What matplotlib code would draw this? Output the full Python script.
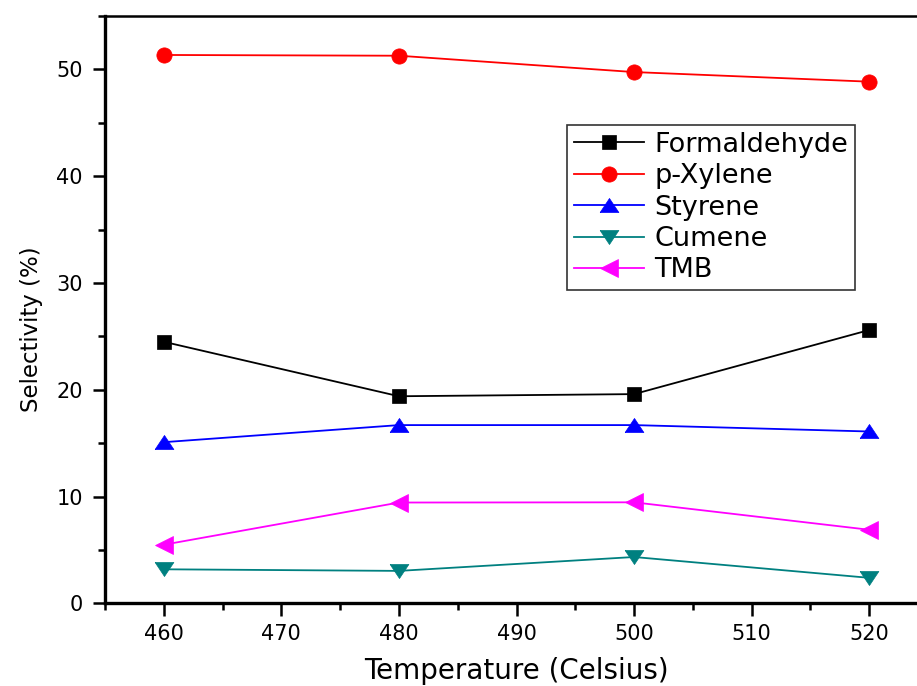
import numpy as np
import matplotlib
matplotlib.use("Agg")
from matplotlib import pyplot as plt
from matplotlib.ticker import MultipleLocator

# Reaction temperatures and product selectivities (%)
temperature = [460, 480, 500, 520]
formaldehyde = [24.5, 19.4, 19.6, 25.6]
p_xylene = [51.35, 51.28, 49.75, 48.85]
styrene = [15.1, 16.7, 16.7, 16.1]
cumene = [3.2, 3.05, 4.35, 2.4]
tmb = [5.5, 9.45, 9.47, 6.9]

# wide, flat triangles like the Origin symbols
tri_up = [(-1, -0.75), (1, -0.75), (0, 0.75), (-1, -0.75)]
tri_down = [(-1, 0.75), (1, 0.75), (0, -0.75), (-1, 0.75)]

plt.rcParams['font.family'] = ['DejaVu Sans']

fig = plt.figure(figsize=(9.17, 6.86), dpi=100)
ax = fig.add_axes([0.1145, 0.1203, 0.8975, 0.8564])

series = [
    (formaldehyde, "Formaldehyde", "black", "s", 10),
    (p_xylene, "p-Xylene", "red", "o", 11),
    (styrene, "Styrene", "blue", tri_up, 13.5),
    (cumene, "Cumene", "#008080", tri_down, 13.5),
    (tmb, "TMB", "magenta", "<", 12.5),
]
for vals, name, col, mk, ms in series:
    ax.plot(temperature, vals, color=col, lw=1.3, marker=mk, markersize=ms,
            markerfacecolor=col, markeredgecolor=col, markeredgewidth=0.5,
            label=name)

ax.set_xlim(455, 525)
ax.set_ylim(0, 55)
ax.xaxis.set_major_locator(MultipleLocator(10))
ax.xaxis.set_minor_locator(MultipleLocator(5))
ax.yaxis.set_major_locator(MultipleLocator(10))
ax.yaxis.set_minor_locator(MultipleLocator(5))

ax.tick_params(which='major', direction='out', length=9, width=1.8,
               labelsize=15, top=False, right=False)
ax.tick_params(axis='y', which='major', pad=7)
ax.tick_params(axis='x', which='major', pad=6)
ax.tick_params(which='minor', direction='out', length=5, width=1.8,
               top=False, right=False)

ax.spines['left'].set_linewidth(2.4)
ax.spines['bottom'].set_linewidth(2.4)
ax.spines['top'].set_linewidth(1.8)
ax.spines['right'].set_linewidth(1.8)

ax.set_xlabel("Temperature (Celsius)", fontsize=20, va='baseline')
ax.xaxis.set_label_coords(0.5, -0.1285)
ax.set_ylabel("Selectivity (%)", fontsize=16.5, va='baseline')
ax.yaxis.set_label_coords(-0.0814, 0.467)

leg = ax.legend(loc='upper left', bbox_to_anchor=(0.6183, 0.8178),
                bbox_transform=fig.transFigure, borderaxespad=0,
                fontsize=19.5, handlelength=2.6, handletextpad=0.38,
                labelspacing=0.2, borderpad=0.25, fancybox=False,
                framealpha=1, edgecolor='#333333')
leg.get_frame().set_linewidth(1.2)

fig.savefig("out.png", dpi=100)
